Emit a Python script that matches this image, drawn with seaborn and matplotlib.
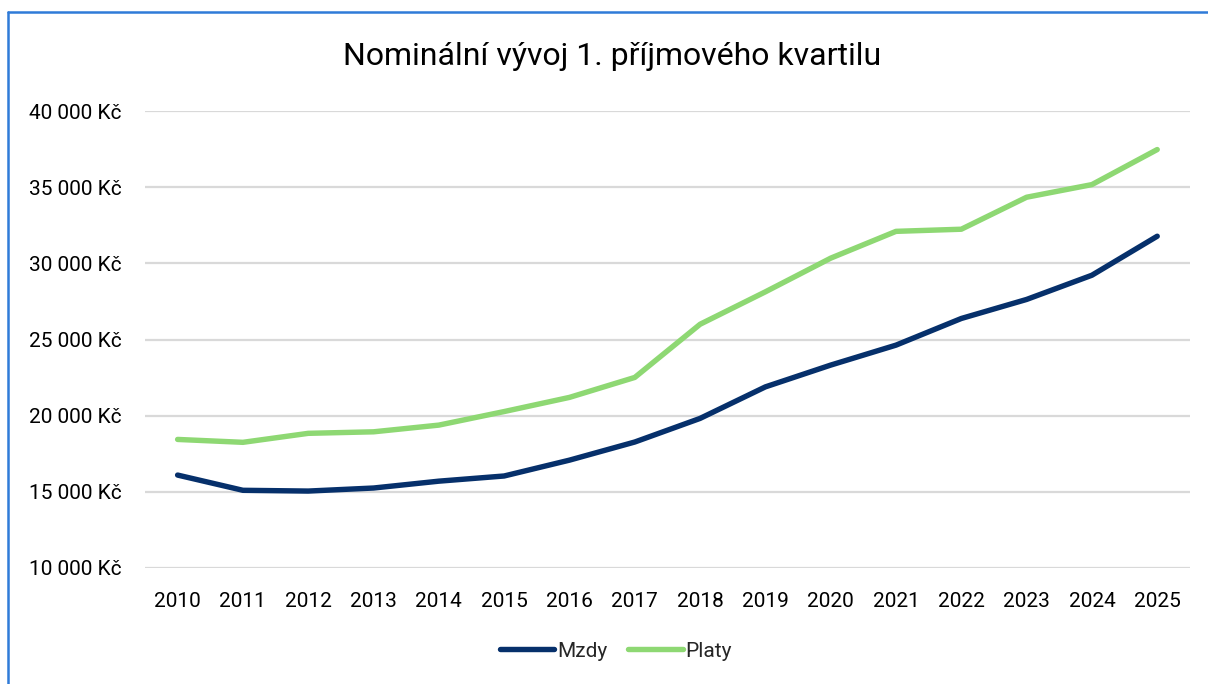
import pandas as pd
import matplotlib
matplotlib.use("Agg")
import matplotlib.pyplot as plt
import matplotlib.ticker as mticker
from matplotlib.lines import Line2D
import seaborn as sns

# data
years = [str(y) for y in range(2010, 2026)]
mzdy = [16100, 15100, 15050, 15250, 15700, 16040, 17080, 18270,
        19820, 21890, 23320, 24630, 26380, 27630, 29220, 31780]
platy = [18440, 18250, 18840, 18940, 19380, 20270, 21200, 22510,
         26000, 28130, 30340, 32100, 32240, 34340, 35170, 37470]
series_names = ["Mzdy", "Platy"]
yticks = [10000, 15000, 20000, 25000, 30000, 35000, 40000]

COL_MZDY = "#06306B"
COL_PLATY = "#8ED873"
COL_GRID = "#D9D9D9"
COL_BORDER = "#2F7BD8"

df = pd.DataFrame({
    "year": years * 2,
    "value": mzdy + platy,
    "series": [series_names[0]] * len(years) + [series_names[1]] * len(years),
})

sns.set_theme(style="white")
plt.rcParams["font.family"] = ["Roboto", "DejaVu Sans"]

fig = plt.figure(figsize=(12.08, 6.84), dpi=100)
ax = fig.add_axes([0.120, 0.1696, 0.865, 0.6681])

sns.lineplot(data=df, x="year", y="value", hue="series",
             palette=[COL_MZDY, COL_PLATY], linewidth=3.9, ax=ax,
             legend=False, sort=False)
for ln in ax.lines:
    ln.set_solid_capstyle("round")
    ln.set_solid_joinstyle("round")

ax.set_xlim(-0.5, len(years) - 0.5)
ax.set_ylim(yticks[0], yticks[-1])
ax.set_yticks(yticks)
ax.yaxis.set_major_formatter(
    mticker.FuncFormatter(lambda v, p: f"{int(v):,}".replace(",", " ") + " Kč"))
ax.grid(axis="y", color=COL_GRID, linewidth=1.6, zorder=0)
ax.set_axisbelow(True)
for s in ax.spines.values():
    s.set_visible(False)
ax.tick_params(axis="both", length=0, labelsize=15, colors="#000000")
ax.tick_params(axis="y", pad=17)
ax.tick_params(axis="x", pad=17)
ax.set_xlabel("")
ax.set_ylabel("")

fig.text(0.507, 0.917, "Nominální vývoj 1. příjmového kvartilu",
         ha="center", va="center", fontsize=23, fontweight="normal",
         color="#000000")

handles = [Line2D([0], [0], color=COL_MZDY, lw=3.9, solid_capstyle="round"),
           Line2D([0], [0], color=COL_PLATY, lw=3.9, solid_capstyle="round")]
fig.legend(handles, series_names, loc="center", bbox_to_anchor=(0.51, 0.048),
           ncol=2, frameon=False, fontsize=15, handlelength=2.6,
           handletextpad=0.15, columnspacing=1.0)

# blue frame edge visible in the reference (top and left)
fig.add_artist(Line2D([8 / 1208, 1.0], [1 - 12 / 684, 1 - 12 / 684],
                      transform=fig.transFigure, color=COL_BORDER, lw=1.8))
fig.add_artist(Line2D([8 / 1208, 8 / 1208], [0.0, 1 - 12 / 684],
                      transform=fig.transFigure, color=COL_BORDER, lw=1.8))

fig.savefig("out.png", dpi=100)
